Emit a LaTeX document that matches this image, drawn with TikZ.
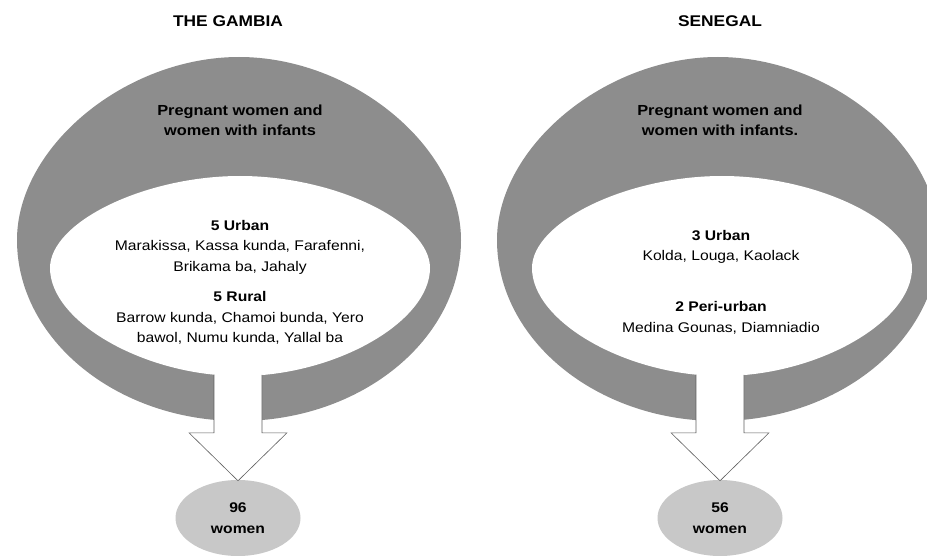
\documentclass[tikz,border=0pt]{standalone}
\usepackage{fontspec}
\setmainfont{Liberation Sans}[FakeStretch=1.12]
\usetikzlibrary{shapes.geometric}
\definecolor{ringgray}{RGB}{141,141,141}
\definecolor{ovalgray}{RGB}{200,200,200}
\definecolor{arrowline}{RGB}{95,95,95}
\newcommand\blobfill[8]{%
 \fill[#8] ({#1-#3},#2)
   .. controls ({#1-#3},{#2-#6*#4}) and ({#1-#6*#3},{#2-#4}) .. (#1,{#2-#4})
   .. controls ({#1+#6*#3},{#2-#4}) and ({#1+#3},{#2-#6*#4}) .. ({#1+#3},#2)
   .. controls ({#1+#3},{#2+#7*#5}) and ({#1+#7*#3},{#2+#5}) .. (#1,{#2+#5})
   .. controls ({#1-#7*#3},{#2+#5}) and ({#1-#3},{#2+#7*#5}) .. cycle;}
\tikzset{
  titletext/.style={font=\fontsize{15.5}{18}\selectfont\bfseries, text=black, inner sep=0pt},
  headtext/.style={font=\fontsize{14.6}{20}\selectfont\bfseries, align=center, text=black, inner sep=0pt},
  listtext/.style={font=\fontsize{14}{20.5}\selectfont, align=center, text=black, inner sep=0pt},
  ovalnode/.style={ellipse, fill=ovalgray, minimum width=125pt, minimum height=76pt, inner sep=0pt,
     font=\fontsize{14}{21}\selectfont\bfseries, align=center},
  arrowbody/.style={fill=white, draw=arrowline, line width=0.6pt, line join=miter},
}
\begin{document}
\begin{tikzpicture}[x=1pt,y=-1pt]
\useasboundingbox (0,0) rectangle (927,556);
\clip (0,0) rectangle (927,556);
\fill[white] (0,0) rectangle (927,556);

% rings
\blobfill{239}{240}{222}{183}{181}{0.51}{0.55}{ringgray}
\blobfill{240}{268}{190}{92}{108}{0.50}{0.50}{white}
\blobfill{718}{240}{221}{183}{181}{0.51}{0.55}{ringgray}
\blobfill{722}{268}{190}{92}{108}{0.50}{0.50}{white}

% bottom ovals
\node[ovalnode] (lo) at (238,518) {96\\women};
\node[ovalnode] (ro) at (720,518) {56\\women};

% block arrows from ring to oval
\coordinate (lt) at ([yshift=-1pt]lo.north);
\coordinate (rt) at ([yshift=-1pt]ro.north);
\foreach \t in {lt,rt}{
  \path[arrowbody] ([shift={(-24,-106)}]\t) -- ([shift={(-24,-48)}]\t) -- ([shift={(-49,-48)}]\t)
     -- (\t) -- ([shift={(49,-48)}]\t) -- ([shift={(24,-48)}]\t) -- ([shift={(24,-106)}]\t);
}

% titles
\node[titletext] (tg) at (228,21) {THE GAMBIA};
\node[titletext] (sn) at (720,21) {SENEGAL};

% ring labels
\node[headtext] (lp) at (240,120) {Pregnant women and\\women with infants};
\node[headtext] (rp) at (720,120) {Pregnant women and\\women with infants.};

% left inner
\node[listtext] (lu) at (240,247) {\textbf{5 Urban}\\Marakissa, Kassa kunda, Farafenni,\\Brikama ba, Jahaly};
\node[listtext] (lr) at (240,318) {\textbf{5 Rural}\\Barrow kunda, Chamoi bunda, Yero\\bawol, Numu kunda, Yallal ba};

% right inner
\node[listtext] (ru) at (721,247) {\textbf{3 Urban}\\Kolda, Louga, Kaolack};
\node[listtext] (rr) at (721,318) {\textbf{2 Peri-urban}\\Medina Gounas, Diamniadio};
\end{tikzpicture}
\end{document}
